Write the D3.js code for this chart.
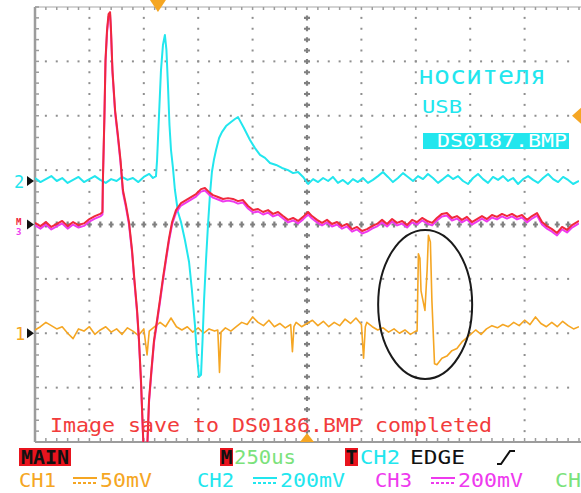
<!DOCTYPE html>
<html>
<head>
<meta charset="utf-8">
<script src="https://cdn.jsdelivr.net/npm/d3@7"></script>
<style>
  body { margin: 0; background: #fff; }
  svg { display: block; }
  text { font-family: "DejaVu Sans Mono", "Liberation Mono", monospace; }
</style>
</head>
<body>
<svg id="scope" width="581" height="493"></svg>
<script>
// ---- scope settings / data (time in us, amplitude in mV) ----
const timeRange = [-1250, 1250];      // 10 div x 250us
const timePerDiv = 250;
const triggerTime = -685;
const triggerLevelDiv = 2;            // right-hand trigger marker
const channelNames = ["CH1", "CH2", "CH3"];
const channelMvPerDiv = [50, 200, 200];
const channelOffsetDiv = [-2, 0.8, 0];

const ch1Trace = [[-1250,3],[-1225,6],[-1200,10],[-1175,7],[-1150,4],[-1125,6],[-1100,0],[-1075,-5],[-1050,4],[-1025,2],
  [-1000,6],[-975,-1],[-950,3],[-925,6],[-900,1],[-875,4],[-850,-1],[-825,5],[-800,2],[-775,-2],[-750,4],[-735,-20],
  [-725,2],[-700,6],[-675,10],[-650,6],[-625,14],[-600,6],[-575,3],[-550,6],[-525,1],[-500,5],[-475,0],[-450,4],
  [-425,2],[-410,3],[-402,-36],[-395,1],[-375,5],[-350,2],[-325,6],[-300,10],[-275,8],[-250,15],[-225,10],[-200,7],
  [-175,12],[-150,6],[-125,9],[-100,5],[-75,8],[-67,-17],[-60,6],[-50,10],[-25,6],[0,9],[25,12],[50,7],[75,11],
  [100,6],[125,10],[150,7],[175,13],[200,9],[225,14],[250,8],[260,-23],[268,6],[275,10],[300,6],[325,3],[350,5],
  [375,1],[400,4],[425,0],[450,3],[475,-1],[500,2],[506,2],[512,73],[519,69],[524,39],[533,30],[542,21],[552,58],
  [558,90],[567,84],[574,30],[586,-28],[597,-29],[620,-23],[643,-21],[666,-16],[689,-14],[712,-8],[735,-4],[758,0],
  [775,3],[800,-1],[825,4],[850,7],[875,5],[900,8],[925,6],[950,10],[975,7],[1000,12],[1025,8],[1050,15],[1075,9],
  [1100,6],[1125,10],[1150,6],[1175,11],[1200,7],[1225,4],[1250,6]];

const ch2Trace = [[-1250,11],[-1225,-4],[-1200,7],[-1175,18],[-1150,0],[-1125,11],[-1100,-7],[-1075,4],[-1050,15],
  [-1025,-4],[-1000,7],[-975,18],[-950,4],[-925,-7],[-900,7],[-875,0],[-850,15],[-825,4],[-800,11],[-775,-4],
  [-750,15],[-725,26],[-708,11],[-694,18],[-689,77],[-680,243],[-671,408],[-662,500],[-653,537],[-646,482],
  [-639,353],[-632,206],[-625,114],[-616,48],[-607,-33],[-593,-114],[-579,-151],[-561,-217],[-542,-298],
  [-529,-401],[-515,-529],[-506,-640],[-496,-720],[-487,-713],[-480,-585],[-473,-437],[-464,-290],[-455,-162],
  [-446,-51],[-437,33],[-428,77],[-418,114],[-404,158],[-391,180],[-372,202],[-349,217],[-331,228],[-317,235],
  [-290,195],[-262,151],[-239,121],[-216,96],[-193,85],[-170,66],[-142,59],[-115,48],[-87,40],[-64,29],[-41,33],
  [-18,15],[5,-11],[28,7],[51,-4],[74,11],[97,0],[119,15],[142,-7],[165,4],[188,-11],[211,7],[234,-4],[257,11],
  [280,-7],[303,4],[326,18],[349,33],[372,15],[395,-4],[418,11],[441,29],[464,15],[487,0],[510,18],[533,7],
  [556,26],[579,11],[602,-7],[625,7],[648,22],[671,7],[694,18],[717,0],[740,-11],[763,11],[786,26],[809,7],
  [832,-7],[855,15],[878,4],[901,18],[924,0],[947,11],[970,-11],[993,7],[1016,18],[1039,4],[1062,-7],[1085,11],
  [1108,26],[1131,7],[1154,-4],[1177,15],[1200,4],[1223,-11],[1250,0]];

const ch3Trace = [[-1250,6],[-1225,-6],[-1200,9],[-1175,-9],[-1150,2],[-1125,13],[-1100,-6],[-1075,9],[-1050,-2],
  [-1025,4],[-1000,20],[-975,31],[-950,39],[-940,46],[-938,164],[-931,399],[-926,605],[-919,715],[-912,774],
  [-905,781],[-901,722],[-894,568],[-882,421],[-869,329],[-857,237],[-846,127],[-832,72],[-818,9],[-804,-94],
  [-793,-204],[-781,-314],[-772,-425],[-763,-572],[-756,-719],[-749,-866],[-740,-902],[-733,-792],[-726,-645],
  [-715,-535],[-703,-425],[-689,-351],[-676,-278],[-662,-197],[-648,-123],[-634,-50],[-620,9],[-602,53],
  [-579,79],[-556,90],[-533,101],[-510,112],[-487,130],[-469,134],[-450,119],[-432,108],[-409,101],[-386,94],
  [-363,97],[-340,94],[-317,86],[-294,90],[-271,68],[-248,53],[-225,57],[-202,46],[-179,53],[-156,39],[-133,46],
  [-110,31],[-87,17],[-64,24],[-41,13],[-18,28],[5,46],[23,31],[46,17],[69,6],[92,17],[115,2],[138,9],[161,-6],
  [184,2],[207,-17],[230,-9],[253,-24],[276,-17],[299,-6],[322,2],[345,17],[368,2],[391,20],[414,6],[437,13],
  [460,-2],[483,17],[506,9],[529,24],[552,13],[575,6],[597,24],[620,39],[643,42],[666,24],[689,31],[712,17],
  [735,28],[758,9],[781,20],[804,31],[827,20],[850,35],[873,28],[896,39],[919,31],[942,39],[965,28],[988,35],
  [1011,17],[1034,31],[1057,42],[1080,9],[1103,-6],[1126,-17],[1149,-31],[1172,-9],[1195,-20],[1218,-2],[1250,13]];

// circled region on CH1 (centre in us / div, radii in us / div)
const markCentre = [543, -1.47];
const markRadius = [216, 1.37];

const colors = { ch1: "#f5a623", ch2: "#22e6ee", ch3: "#ee3aee", math: "#f0283c", grid: "#8f8f8f",
  green: "#7be27b", box: "#e8141e" };

// ---- scales ----
const svg = d3.select("#scope");
const x = d3.scaleLinear().domain(timeRange).range([35, 579]);
const y = d3.scaleLinear().domain([-4, 4]).range([442, 7]);

// ---- graticule ----
const grid = svg.append("g");
const minorDiv = d3.range(-4, 4.001, 0.2);
const minorT = d3.range(timeRange[0], timeRange[1] + 1, timePerDiv / 5);

d3.range(-1000, 1001, 250).filter(t => t !== 0).forEach(t => {
  grid.selectAll(null).data(minorDiv.slice(1, -1)).enter().append("rect")
    .attr("x", x(t) - 1).attr("y", d => y(d) - 1).attr("width", 2).attr("height", 2)
    .attr("fill", colors.grid);
});
d3.range(-3, 4, 1).filter(d => d !== 0).forEach(d => {
  grid.selectAll(null).data(minorT.slice(1, -1)).enter().append("rect")
    .attr("x", t => x(t) - 1).attr("y", y(d) - 1).attr("width", 2).attr("height", 2)
    .attr("fill", colors.grid);
});
// centre cross, heavier marks
grid.selectAll(null).data(minorDiv.slice(1, -1)).enter().append("path")
  .attr("d", d => `M${x(0) - 3},${y(d)}h6M${x(0)},${y(d) - 2.5}v5`)
  .attr("stroke", "#808080").attr("stroke-width", 2.2);
grid.selectAll(null).data(minorT.slice(1, -1)).enter().append("path")
  .attr("d", t => `M${x(t) - 2.5},${y(0)}h5M${x(t)},${y(0) - 3}v6`)
  .attr("stroke", "#808080").attr("stroke-width", 2.2);

// frame
grid.append("line").attr("x1", x(timeRange[0])).attr("x2", x(timeRange[0]))
  .attr("y1", y(4)).attr("y2", y(-4)).attr("stroke", "#9c9c9c").attr("stroke-width", 2.5);
grid.append("line").attr("x1", x(timeRange[0])).attr("x2", 581)
  .attr("y1", y(4)).attr("y2", y(4)).attr("stroke", "#a8a8a8").attr("stroke-width", 1.2);
grid.append("line").attr("x1", x(timeRange[0])).attr("x2", 581)
  .attr("y1", y(-4)).attr("y2", y(-4)).attr("stroke", "#9c9c9c").attr("stroke-width", 2);
grid.selectAll(null).data(minorDiv).enter().append("line")
  .attr("x1", x(timeRange[0])).attr("x2", x(timeRange[0]) + 4)
  .attr("y1", d => y(d)).attr("y2", d => y(d)).attr("stroke", "#9c9c9c").attr("stroke-width", 1.5);
grid.selectAll(null).data(minorT).enter().append("line")
  .attr("x1", t => x(t)).attr("x2", t => x(t))
  .attr("y1", y(4)).attr("y2", y(4) + 3).attr("stroke", "#9c9c9c").attr("stroke-width", 1.5);
grid.selectAll(null).data(minorT).enter().append("line")
  .attr("x1", t => x(t)).attr("x2", t => x(t))
  .attr("y1", y(-4)).attr("y2", y(-4) - 4).attr("stroke", "#9c9c9c").attr("stroke-width", 1.5);

// ---- traces ----
svg.append("clipPath").attr("id", "screen").append("rect")
  .attr("x", x(timeRange[0])).attr("y", y(4)).attr("width", x(timeRange[1]) - x(timeRange[0]))
  .attr("height", y(-4) - y(4));
const traces = svg.append("g").attr("clip-path", "url(#screen)");

function traceLine(ch) {
  return d3.line()
    .x(d => x(d[0]))
    .y(d => y(channelOffsetDiv[ch] + d[1] / channelMvPerDiv[ch]));
}

traces.append("path").datum(ch1Trace).attr("d", traceLine(0))
  .attr("fill", "none").attr("stroke", colors.ch1).attr("stroke-width", 1.6).attr("stroke-linejoin", "round");
traces.append("path").datum(ch2Trace).attr("d", traceLine(1))
  .attr("fill", "none").attr("stroke", colors.ch2).attr("stroke-width", 2).attr("stroke-linejoin", "round");
traces.append("path").datum(ch3Trace).attr("d", traceLine(2)).attr("transform", "translate(0,2.5)")
  .attr("fill", "none").attr("stroke", colors.ch3).attr("stroke-width", 2).attr("stroke-linejoin", "round");
traces.append("path").datum(ch3Trace).attr("d", traceLine(2))
  .attr("fill", "none").attr("stroke", colors.math).attr("stroke-width", 2).attr("stroke-linejoin", "round");

// circled event
svg.append("ellipse")
  .attr("cx", x(markCentre[0])).attr("cy", y(markCentre[1]))
  .attr("rx", x(markRadius[0]) - x(0)).attr("ry", y(0) - y(markRadius[1]))
  .attr("fill", "none").attr("stroke", "#1a1a1a").attr("stroke-width", 2);

// ---- markers ----
const tx = x(triggerTime);
svg.append("path").attr("d", `M${tx - 8},0L${tx + 8},0L${tx},12Z`).attr("fill", colors.ch1);
svg.append("path").attr("d", `M572,${y(triggerLevelDiv)}L581,${y(triggerLevelDiv) - 8}L581,${y(triggerLevelDiv) + 8}Z`)
  .attr("fill", colors.ch1);
svg.append("path").attr("d", `M${x(0) - 7},${y(-4)}L${x(0) + 7},${y(-4)}L${x(0)},${y(-4) - 9}Z`)
  .attr("fill", colors.ch1);

function arrow(yy) {
  svg.append("path").attr("d", `M27,${yy - 5}L34,${yy}L27,${yy + 5}Z`).attr("fill", "#111");
}
[0, 1, 2].forEach(ch => arrow(y(channelOffsetDiv[ch])));
svg.append("text").attr("x", 15).attr("y", y(channelOffsetDiv[0]) + 7).attr("font-size", 17)
  .attr("fill", colors.ch1).text("1");
svg.append("text").attr("x", 14).attr("y", y(channelOffsetDiv[1]) + 7).attr("font-size", 17)
  .attr("fill", colors.ch2).text("2");
svg.append("text").attr("x", 16).attr("y", y(0)).attr("font-size", 9).attr("font-weight", "bold")
  .attr("fill", colors.math).text("M");
svg.append("text").attr("x", 16).attr("y", y(0) + 10.5).attr("font-size", 9).attr("font-weight", "bold")
  .attr("fill", colors.ch3).text("3");

// ---- screen messages ----
function label(str, x0, base, size, width, fill, extra) {
  const t = svg.append("text").attr("x", x0).attr("y", base).attr("font-size", size)
    .attr("fill", fill).attr("textLength", width).attr("lengthAdjust", "spacingAndGlyphs").text(str);
  if (extra) extra(t);
  return t;
}
label("носителя", 418, 84, 25, 128, colors.ch2);
label("USB", 422, 113, 18, 40, colors.ch2);
svg.append("rect").attr("x", 423).attr("y", 133).attr("width", 146).attr("height", 16).attr("fill", colors.ch2);
label("DS0187.BMP", 437, 147, 17, 130, "#fff");
label("Image save to DS0186.BMP completed", 50, 432, 19, 442, "#f23c3c");

// ---- status lines ----
svg.append("rect").attr("x", 19).attr("y", 448).attr("width", 52).attr("height", 18).attr("fill", colors.box);
label("MAIN", 21, 464, 19, 48, "#111", t => t.attr("font-weight", "bold"));
svg.append("rect").attr("x", 220).attr("y", 448).attr("width", 13).attr("height", 18).attr("fill", colors.box);
label("M", 220.5, 464, 19, 12, "#111", t => t.attr("font-weight", "bold"));
label(timePerDiv + "us", 234, 464, 20, 62, colors.green);
svg.append("rect").attr("x", 345).attr("y", 448).attr("width", 13).attr("height", 18).attr("fill", colors.box);
label("T", 345.5, 464, 19, 12, "#111", t => t.attr("font-weight", "bold"));
label("CH2", 360, 464, 20, 40, colors.ch2);
label("EDGE", 410, 464, 20, 55, "#111");
svg.append("path").attr("d", "M497,464h4l9,-13h5").attr("fill", "none").attr("stroke", "#111").attr("stroke-width", 2);

const rowX = [19, 197, 375];
const rowFill = [colors.ch1, colors.ch2, colors.ch3];
channelNames.forEach((name, i) => {
  const x0 = rowX[i];
  label(name, x0, 487, 19, 37, rowFill[i]);
  const sx = x0 + (i === 0 ? 54 : 56);
  svg.append("line").attr("x1", sx).attr("x2", sx + 24).attr("y1", 478).attr("y2", 478)
    .attr("stroke", rowFill[i]).attr("stroke-width", 2);
  svg.append("line").attr("x1", sx).attr("x2", sx + 24).attr("y1", 483).attr("y2", 483)
    .attr("stroke", rowFill[i]).attr("stroke-width", 2).attr("stroke-dasharray", "3,2");
  const v = channelMvPerDiv[i] + "mV";
  label(v, sx + 27, 487, 19, v.length * 13, rowFill[i]);
});
label("CH", 555, 487, 19, 26, colors.green);
</script>
</body>
</html>
